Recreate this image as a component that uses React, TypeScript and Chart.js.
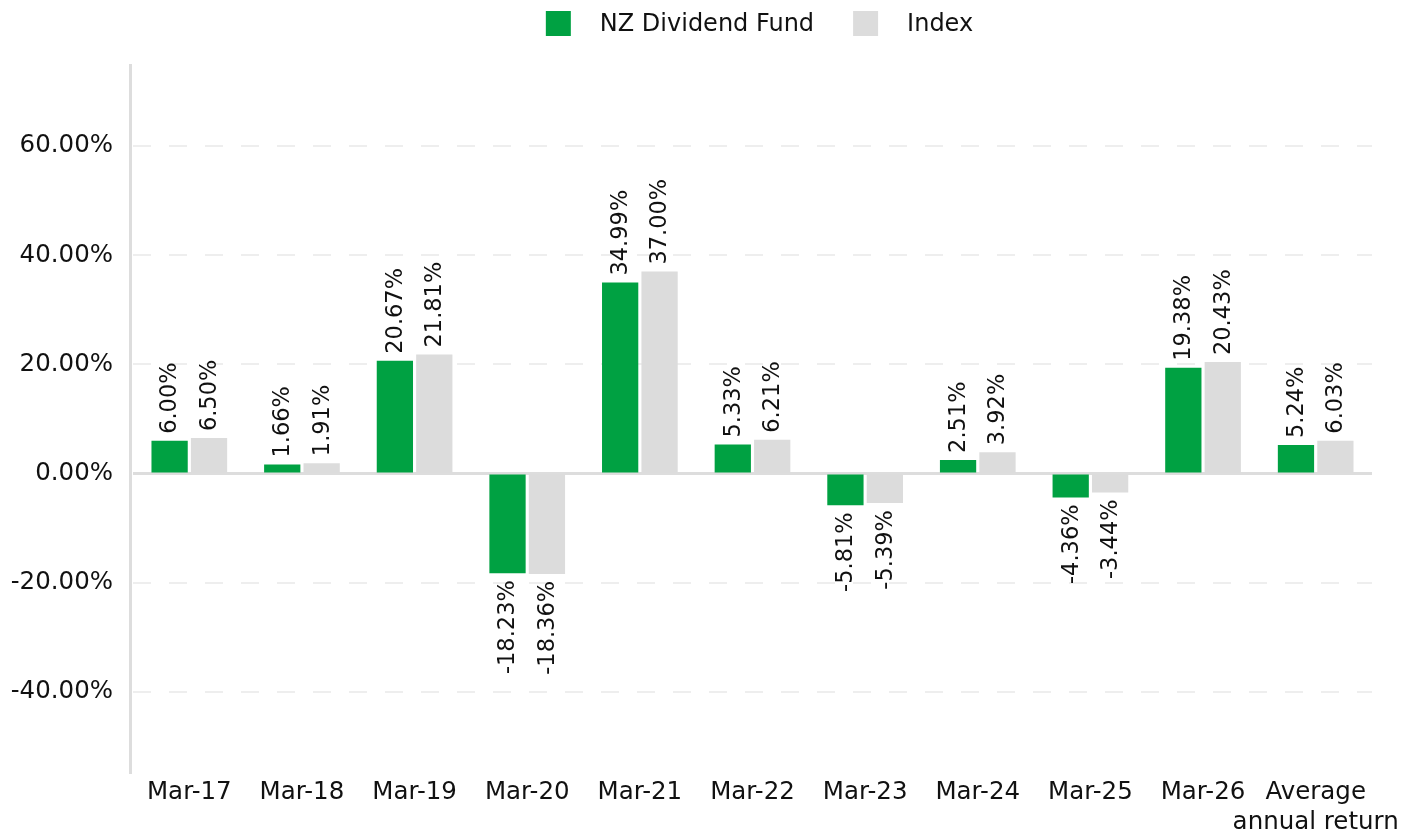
import React, { useEffect, useRef } from "react";
import { Chart, registerables } from "chart.js";

Chart.register(...registerables);

const categories: (string | string[])[] = [
  "Mar-17", "Mar-18", "Mar-19", "Mar-20", "Mar-21", "Mar-22",
  "Mar-23", "Mar-24", "Mar-25", "Mar-26", ["Average", "annual return"],
];
const fundValues = [6.0, 1.66, 20.67, -18.23, 34.99, 5.33, -5.81, 2.51, -4.36, 19.38, 5.24];
const indexValues = [6.5, 1.91, 21.81, -18.36, 37.0, 6.21, -5.39, 3.92, -3.44, 20.43, 6.03];
const seriesNames = ["NZ Dividend Fund", "Index"];
const yTicks = [-40, -20, 0, 20, 40, 60];

const FONT = "'DejaVu Sans', Verdana, sans-serif";
const GREEN = "#00a142";
const GREY = "#dcdcdc";
const TEXT = "#111111";
const AXIS = "#dddddd";

const axisLinesPlugin = {
  id: "axisLines",
  beforeDatasetsDraw(chart: any) {
    const { ctx, chartArea, scales } = chart;
    const y = scales.y.getPixelForValue(0);
    ctx.save();
    ctx.strokeStyle = AXIS;
    ctx.lineWidth = 3;
    ctx.beginPath();
    ctx.moveTo(chartArea.left, y);
    ctx.lineTo(chartArea.right, y);
    ctx.stroke();
    ctx.beginPath();
    ctx.moveTo(chartArea.left - 2.5, chartArea.top);
    ctx.lineTo(chartArea.left - 2.5, chartArea.bottom);
    ctx.stroke();
    ctx.restore();
  },
};

const valueLabelPlugin = {
  id: "valueLabels",
  afterDatasetsDraw(chart: any) {
    const { ctx } = chart;
    ctx.save();
    ctx.font = `22.5px ${FONT}`;
    ctx.fillStyle = TEXT;
    ctx.textBaseline = "middle";
    chart.data.datasets.forEach((ds: any, di: number) => {
      const meta = chart.getDatasetMeta(di);
      meta.data.forEach((el: any, i: number) => {
        const v = ds.data[i] as number;
        const pos = v >= 0;
        ctx.save();
        ctx.translate(el.x, pos ? el.y - 7 : el.y + 7);
        ctx.rotate(-Math.PI / 2);
        ctx.textAlign = pos ? "left" : "right";
        ctx.fillText(v.toFixed(2) + "%", 0, 1);
        ctx.restore();
      });
    });
    ctx.restore();
  },
};

const legendPlugin = {
  id: "customLegend",
  afterDraw(chart: any) {
    const { ctx, chartArea } = chart;
    const box = 25;
    const gapText = 29;
    const gapItem = 39;
    ctx.save();
    ctx.font = `24px ${FONT}`;
    const items = chart.data.datasets.map((ds: any) => ({
      text: ds.label as string,
      color: ds.backgroundColor as string,
      w: ctx.measureText(ds.label).width,
    }));
    const total =
      items.reduce((s: number, it: any) => s + box + gapText + it.w, 0) + gapItem * (items.length - 1);
    let x = (chartArea.left + chartArea.right) / 2 + 7 - total / 2;
    const top = 11;
    ctx.textBaseline = "middle";
    ctx.textAlign = "left";
    items.forEach((it: any) => {
      ctx.fillStyle = it.color;
      ctx.fillRect(x, top, box, box);
      ctx.fillStyle = TEXT;
      ctx.fillText(it.text, x + box + gapText, top + box / 2 + 1);
      x += box + gapText + it.w + gapItem;
    });
    ctx.restore();
  },
};

export default function App() {
  const ref = useRef<HTMLCanvasElement>(null);
  useEffect(() => {
    if (!ref.current) return;
    const chart = new Chart(ref.current, {
      type: "bar",
      data: {
        labels: categories,
        datasets: [
          {
            label: seriesNames[0],
            data: fundValues,
            backgroundColor: GREEN,
            categoryPercentage: 0.7,
            barPercentage: 0.92,
          },
          {
            label: seriesNames[1],
            data: indexValues,
            backgroundColor: GREY,
            categoryPercentage: 0.7,
            barPercentage: 0.92,
          },
        ],
      },
      options: {
        animation: false,
        responsive: true,
        maintainAspectRatio: false,
        layout: { padding: { left: 0, right: 41, top: 64, bottom: 0 } },
        plugins: {
          legend: { display: false },
          tooltip: { enabled: false },
        },
        scales: {
          x: {
            grid: { display: false, drawTicks: false },
            border: { display: false },
            afterFit: (axis: any) => {
              axis.height = 59;
            },
            ticks: {
              color: TEXT,
              font: { family: FONT, size: 24.5, lineHeight: 1.25 },
              padding: 3,
              maxRotation: 0,
              autoSkip: false,
            },
          },
          y: {
            min: -55,
            max: 75,
            afterFit: (axis: any) => {
              axis.width = 133;
            },
            afterBuildTicks: (axis: any) => {
              axis.ticks = yTicks.map((v) => ({ value: v }));
            },
            grid: {
              color: (c: any) => (c.tick && c.tick.value === 0 ? "rgba(0,0,0,0)" : "#eeeeee"),
              lineWidth: 2,
              drawTicks: false,
            },
            border: { display: false, dash: [18, 18] },
            ticks: {
              color: TEXT,
              font: { family: FONT, size: 24.5 },
              padding: 20,
              callback: (v: any) => Number(v).toFixed(2) + "%",
            },
          },
        },
      },
      plugins: [axisLinesPlugin, valueLabelPlugin, legendPlugin],
    });
    return () => chart.destroy();
  }, []);
  return (
    <div style={{ position: "absolute", left: 0, top: 0, width: 1413, height: 833 }}>
      <canvas ref={ref} />
    </div>
  );
}
